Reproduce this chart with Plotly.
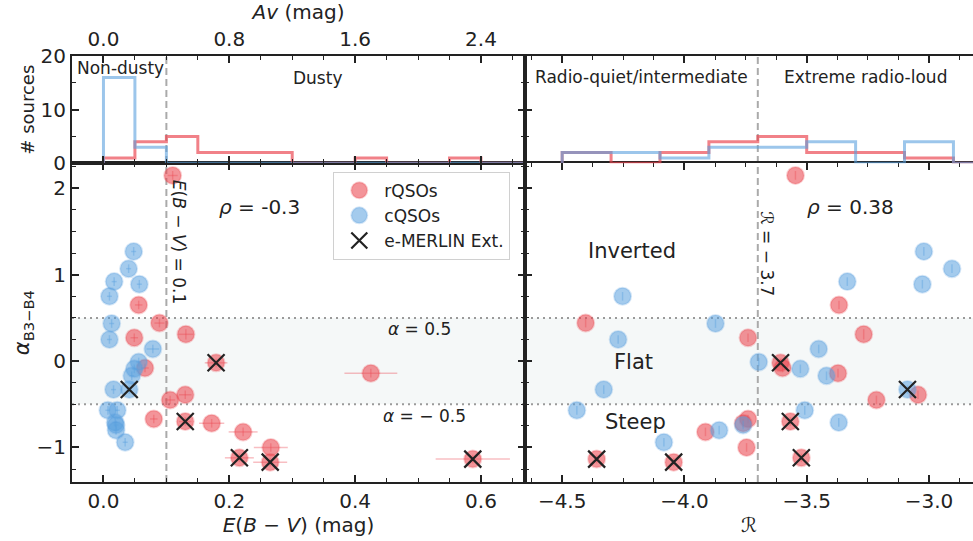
import numpy as np
import plotly.graph_objects as go

# ---------------- data ----------------
# rQSOs
red_ebv = [0.110, 0.056, 0.089, 0.131, 0.049, 0.179, 0.066, 0.130, 0.106,
           0.080, 0.130, 0.172, 0.222, 0.266, 0.216, 0.265, 0.425, 0.587]
red_ebv_err = [0.008, 0.006, 0.008, 0.012, 0.006, 0.018, 0.006, 0.010, 0.008,
               0.006, 0.010, 0.020, 0.023, 0.027, 0.023, 0.027, 0.042, 0.059]
red_R = [-3.546, -3.368, -4.404, -3.267, -3.740, -3.607, -3.599, -3.045, -3.215,
         -3.740, -3.567, -3.760, -3.914, -3.746, -3.522, -4.044, -3.372, -4.359]
red_alpha = [2.15, 0.65, 0.44, 0.31, 0.27, -0.02, -0.08, -0.39, -0.45,
             -0.67, -0.70, -0.72, -0.82, -1.00, -1.12, -1.17, -0.14, -1.135]
red_alpha_err = [0.05, 0.05, 0.05, 0.06, 0.05, 0.05, 0.05, 0.05, 0.05,
                 0.05, 0.05, 0.05, 0.05, 0.05, 0.05, 0.05, 0.05, 0.05]
red_ext = [False, False, False, False, False, True, False, False, False,
           False, True, False, False, False, True, True, False, True]

# cQSOs
blue_ebv = [0.048, 0.040, 0.017, 0.057, 0.0095, 0.013, 0.0095, 0.0785, 0.056, 0.049,
            0.045, 0.016, 0.041, 0.007, 0.022, 0.0186, 0.020, 0.020, 0.0345]
blue_ebv_err = [0.004, 0.004, 0.004, 0.004, 0.004, 0.004, 0.004, 0.010, 0.004, 0.004,
                0.004, 0.004, 0.004, 0.004, 0.004, 0.004, 0.004, 0.004, 0.004]
blue_R = [-3.021, -2.906, -3.334, -3.027, -4.253, -3.873, -4.271, -3.451, -3.696, -3.526,
          -3.419, -4.330, -3.088, -4.440, -3.508, -3.369, -3.760, -3.858, -4.084]
blue_alpha = [1.27, 1.07, 0.92, 0.89, 0.75, 0.435, 0.25, 0.14, -0.01, -0.09,
              -0.17, -0.33, -0.33, -0.57, -0.57, -0.71, -0.74, -0.80, -0.94]
blue_alpha_err = [0.05, 0.05, 0.05, 0.05, 0.05, 0.05, 0.05, 0.05, 0.05, 0.05,
                  0.05, 0.05, 0.05, 0.05, 0.05, 0.05, 0.05, 0.05, 0.05]
blue_ext = [False, False, False, False, False, False, False, False, False, False,
            False, False, True, False, False, False, False, False, False]

ebv_bins = np.arange(0.0, 0.7001, 0.05)
R_bins = np.arange(-4.5, -2.6999, 0.2)
ebv_ticks = [0.0, 0.2, 0.4, 0.6]
av_ticktext = ["0.0", "0.8", "1.6", "2.4"]

# ---------------- styles ----------------
RED = "rgba(235,70,80,0.58)"
RED_EDGE = "rgba(235,70,80,0.25)"
RED_ERR = "rgba(235,70,80,0.35)"
BLUE = "rgba(90,160,222,0.55)"
BLUE_EDGE = "rgba(90,160,222,0.25)"
BLUE_ERR = "rgba(90,160,222,0.40)"
HRED = "rgba(235,70,80,0.68)"
HBLUE = "rgba(90,160,222,0.60)"
INK = "#222222"
FONT = "DejaVu Sans"

fig = go.Figure()


def step_xy(values, bins):
    counts, edges = np.histogram(values, bins=bins)
    xs = [edges[0]] + list(edges)
    ys = [0] + list(counts) + [0]
    return xs, ys


# histograms
for vals, bins, col, xa, ya in [
    (red_ebv, ebv_bins, HRED, "x3", "y3"),
    (blue_ebv, ebv_bins, HBLUE, "x3", "y3"),
    (red_R, R_bins, HRED, "x4", "y4"),
    (blue_R, R_bins, HBLUE, "x4", "y4"),
]:
    xs, ys = step_xy(vals, bins)
    fig.add_trace(go.Scatter(x=xs, y=ys, mode="lines", line=dict(color=col, width=3, shape="hv"),
                             xaxis=xa, yaxis=ya, showlegend=False, hoverinfo="skip"))

# scatter panels
for panel, xa, ya in [("ebv", "x", "y"), ("R", "x2", "y2")]:
    first = panel == "ebv"
    rx = red_ebv if first else red_R
    bx = blue_ebv if first else blue_R
    ex_r = dict(type="data", array=red_ebv_err, color=RED_ERR, thickness=1.5, width=0) if first else None
    ex_b = dict(type="data", array=blue_ebv_err, color=BLUE_ERR, thickness=1.5, width=0) if first else None
    fig.add_trace(go.Scatter(
        x=rx, y=red_alpha, mode="markers", name="rQSOs", legendrank=1,
        marker=dict(size=17, color=RED, line=dict(color=RED_EDGE, width=2)),
        error_x=ex_r,
        error_y=dict(type="data", array=red_alpha_err, color=RED_ERR, thickness=1.5, width=0),
        xaxis=xa, yaxis=ya, showlegend=first))
    fig.add_trace(go.Scatter(
        x=bx, y=blue_alpha, mode="markers", name="cQSOs", legendrank=2,
        marker=dict(size=17, color=BLUE, line=dict(color=BLUE_EDGE, width=2)),
        error_x=ex_b,
        error_y=dict(type="data", array=blue_alpha_err, color=BLUE_ERR, thickness=1.5, width=0),
        xaxis=xa, yaxis=ya, showlegend=first))
    xx = [v for v, e in zip(rx, red_ext) if e] + [v for v, e in zip(bx, blue_ext) if e]
    yy = [v for v, e in zip(red_alpha, red_ext) if e] + [v for v, e in zip(blue_alpha, blue_ext) if e]
    fig.add_trace(go.Scatter(
        x=xx, y=yy, mode="markers", name="e-MERLIN Ext.", legendrank=3,
        marker=dict(symbol="x-thin", size=17, line=dict(color=INK, width=2.2), color=INK),
        xaxis=xa, yaxis=ya, showlegend=first))

# ---------------- layout ----------------
L, T, B = 72, 56, 59
W, H = 973, 541
D = (525 - L) / (W - L)
HM = 1 - (163.3 - T) / (H - T - B)

common = dict(showline=True, linewidth=2, linecolor=INK, ticks="inside", ticklen=7,
              tickwidth=1.6, tickcolor=INK, showgrid=False, zeroline=False,
              tickfont=dict(size=20, color=INK, family=FONT))
minor = lambda d, t0=0: dict(dtick=d, tick0=t0, ticks="inside", ticklen=4, tickwidth=1.3, tickcolor=INK)

XR1 = [-0.05, 0.67]
XR2 = [-4.652, -2.82]
YR = [-1.40, 2.29]

fig.update_layout(
    width=W, height=H, margin=dict(l=L, r=0, t=T, b=B),
    plot_bgcolor="white", paper_bgcolor="white",
    font=dict(family=FONT, color=INK),
    xaxis=dict(common, domain=[0, D], range=XR1, anchor="y", tickmode="array",
               tickvals=ebv_ticks, ticktext=["0.0", "0.2", "0.4", "0.6"], minor=minor(0.05),
               mirror="ticks",
               title=dict(text="<i>E</i>(<i>B</i> − <i>V</i>) (mag)", font=dict(size=20), standoff=6)),
    yaxis=dict(common, domain=[0, HM], range=YR, anchor="x", tick0=0, dtick=1,
               minor=minor(0.25), mirror="ticks",
               title=dict(text="<i>α</i><sub>B3−B4</sub>", font=dict(size=21), standoff=1)),
    xaxis2=dict(common, domain=[D, 1], range=XR2, anchor="y2", tick0=-4.5, dtick=0.5,
                tickformat=".1f", minor=minor(0.125, -4.5), mirror="ticks",
                title=dict(text="ℛ", font=dict(size=20), standoff=6)),
    yaxis2=dict(common, domain=[0, HM], range=YR, anchor="x2", tick0=0, dtick=1,
                minor=minor(0.25), showticklabels=False),
    xaxis3=dict(common, domain=[0, D], range=XR1, anchor="y3", side="top", tickmode="array",
                tickvals=ebv_ticks, ticktext=av_ticktext, minor=minor(0.05), mirror="ticks",
                title=dict(text="<i>Av</i> (mag)", font=dict(size=20), standoff=4)),
    yaxis3=dict(common, domain=[HM, 1], range=[0, 20], anchor="x3", tickmode="array",
                tickvals=[0, 10, 20], minor=minor(5), mirror="ticks",
                title=dict(text="# sources", font=dict(size=18), standoff=1)),
    xaxis4=dict(common, domain=[D, 1], range=XR2, anchor="y4", side="top", tick0=-4.5,
                dtick=0.5, minor=minor(0.125, -4.5), showticklabels=False),
    yaxis4=dict(common, domain=[HM, 1], range=[0, 20], anchor="x4", tickmode="array",
                tickvals=[0, 10, 20], minor=minor(5), showticklabels=False),
    legend=dict(x=(333.3 - L) / (W - L), y=1 - (171.7 - T) / (H - T - B), xanchor="left",
                yanchor="top", bgcolor="white", bordercolor="#d0d0d0", borderwidth=1,
                font=dict(size=17, color=INK), itemwidth=40, tracegroupgap=0),
    showlegend=True,
)

shapes = []
for xr in ["x domain", "x2 domain"]:
    yr = "y"
    shapes.append(dict(type="rect", xref=xr, yref=yr, x0=0, x1=1, y0=-0.5, y1=0.5,
                       fillcolor="#f5f8f8", line=dict(width=0), layer="below"))
    for yv in [0.5, -0.5]:
        shapes.append(dict(type="line", xref=xr, yref=yr, x0=0, x1=1, y0=yv, y1=yv,
                           line=dict(color="#9a9a9a", width=2, dash="2px,4px"), layer="below"))
shapes.append(dict(type="line", xref="x", yref="paper", x0=0.1, x1=0.1, y0=0, y1=1,
                   line=dict(color="#aaaaaa", width=2, dash="7px,4px"), layer="below"))
shapes.append(dict(type="line", xref="x2", yref="paper", x0=-3.7, x1=-3.7, y0=0, y1=1,
                   line=dict(color="#aaaaaa", width=2, dash="7px,4px"), layer="below"))
fig.update_layout(shapes=shapes)


def ann(text, x, y, xref, yref, size, angle=0):
    fig.add_annotation(text=text, x=x, y=y, xref=xref, yref=yref, showarrow=False,
                       font=dict(size=size, color=INK, family=FONT), textangle=angle,
                       xanchor="center", yanchor="middle")


ann("Non-dusty", 0.0264, 17.7, "x3", "y3", 17)
ann("Dusty", 0.340, 15.96, "x3", "y3", 17)
ann("Radio-quiet/intermediate", -4.177, 16.0, "x4", "y4", 17)
ann("Extreme radio-loud", -3.260, 16.0, "x4", "y4", 17)
ann("<i>ρ</i> = -0.3", 0.2475, 1.786, "x", "y", 20)
ann("<i>ρ</i> = 0.38", -3.321, 1.786, "x2", "y2", 20)
ann("<i>E</i>(<i>B</i> − <i>V</i>) = 0.1", 0.120, 1.37, "x", "y", 17, 90)
ann("ℛ = − 3.7", -3.663, 1.24, "x2", "y2", 17, 90)
ann("<i>α</i> = 0.5", 0.503, 0.366, "x", "y", 17)
ann("<i>α</i> = − 0.5", 0.510, -0.64, "x", "y", 17)
ann("Inverted", -4.215, 1.28, "x2", "y2", 21)
ann("Flat", -4.207, -0.015, "x2", "y2", 21)
ann("Steep", -4.199, -0.71, "x2", "y2", 21)

fig.write_html("out.html")
